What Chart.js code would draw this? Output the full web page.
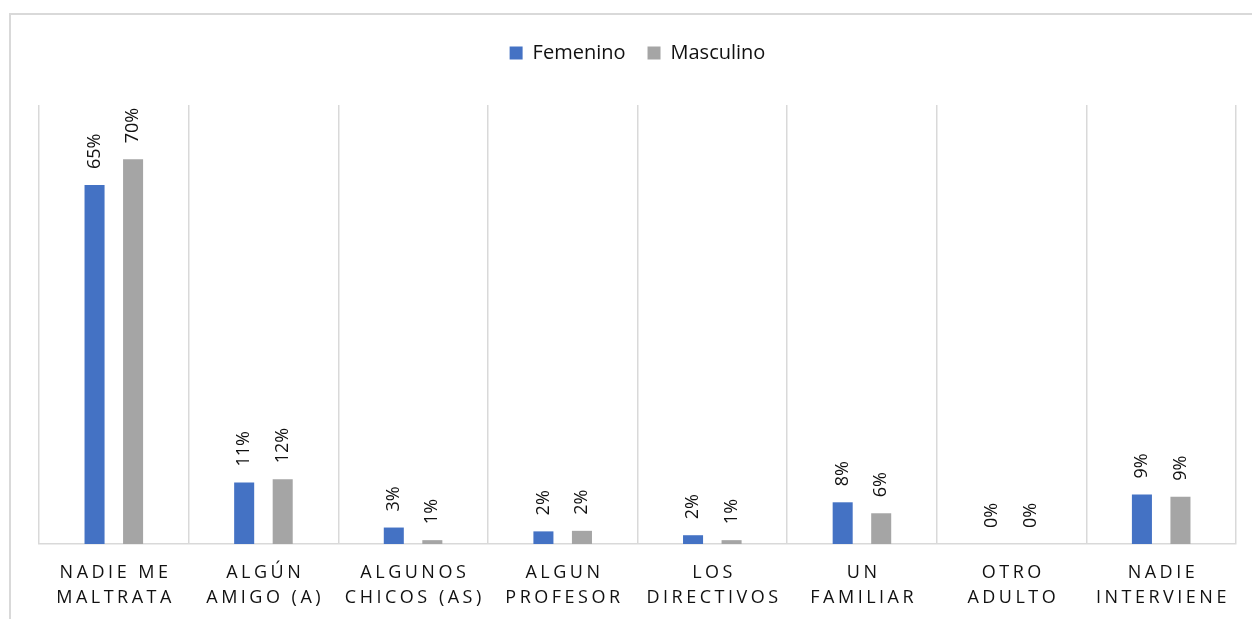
<!DOCTYPE html>
<html>
<head>
<meta charset="utf-8">
<script src="https://cdn.jsdelivr.net/npm/chart.js@4.4.1/dist/chart.umd.min.js"></script>
<style>
  html, body { margin: 0; padding: 0; background: #ffffff; overflow: hidden; width: 1252px; height: 619px; }
  #frame { position: absolute; left: 9px; top: 13px; width: 1300px; height: 700px; border: 2px solid #d9d9d9; background: #fff; }
  #wrap { position: absolute; left: 0; top: 0; width: 1241px; height: 604px; }
</style>
</head>
<body>
<div id="frame"><div id="wrap"><canvas id="c"></canvas></div></div>
<script>
const categories = [
  ["NADIE ME", "MALTRATA"],
  ["ALGÚN", "AMIGO (A)"],
  ["ALGUNOS", "CHICOS (AS)"],
  ["ALGUN", "PROFESOR"],
  ["LOS", "DIRECTIVOS"],
  ["UN", "FAMILIAR"],
  ["OTRO", "ADULTO"],
  ["NADIE", "INTERVIENE"]
];
const seriesNames = ["Femenino", "Masculino"];
const femenino  = [0.654, 0.112, 0.030, 0.023, 0.016, 0.076, 0, 0.090];
const masculino = [0.701, 0.118, 0.007, 0.024, 0.007, 0.056, 0, 0.086];
const yMax = 0.8;

const TEXT = '#111111';
const FONT = '"Open Sans", "Liberation Sans", sans-serif';

const valueLabels = {
  id: 'valueLabels',
  afterDatasetsDraw(chart) {
    const ctx = chart.ctx;
    ctx.save();
    ctx.font = '18px ' + FONT;
    ctx.fillStyle = TEXT;
    ctx.textAlign = 'left';
    ctx.textBaseline = 'middle';
    chart.data.datasets.forEach((ds, di) => {
      const meta = chart.getDatasetMeta(di);
      meta.data.forEach((bar, i) => {
        const txt = Math.round(ds.data[i] * 100) + '%';
        ctx.save();
        ctx.translate(bar.x, bar.y - 16);
        ctx.rotate(-Math.PI / 2);
        ctx.fillText(txt, 0, 0);
        ctx.restore();
      });
    });
    ctx.restore();
  }
};

const catLabels = {
  id: 'catLabels',
  afterDraw(chart) {
    const ctx = chart.ctx;
    const xs = chart.scales.x;
    const bottom = chart.chartArea.bottom;
    ctx.save();
    ctx.font = '18px ' + FONT;
    ctx.fillStyle = TEXT;
    ctx.textAlign = 'center';
    ctx.textBaseline = 'middle';
    const sp = 3.5;
    try { ctx.letterSpacing = sp + 'px'; } catch (e) {}
    categories.forEach((lines, i) => {
      const x = xs.getPixelForTick(i) + sp / 2;
      lines.forEach((t, li) => {
        ctx.fillText(t, x, bottom + 29 + li * 25);
      });
    });
    ctx.restore();
  }
};

new Chart(document.getElementById('c'), {
  type: 'bar',
  data: {
    labels: categories,
    datasets: [
      { label: seriesNames[0], data: femenino, backgroundColor: '#4472C4', categoryPercentage: 0.515, barPercentage: 0.52 },
      { label: seriesNames[1], data: masculino, backgroundColor: '#A5A5A5', categoryPercentage: 0.515, barPercentage: 0.52 }
    ]
  },
  options: {
    responsive: true,
    maintainAspectRatio: false,
    animation: false,
    layout: { padding: { top: 6, left: 28, right: 16, bottom: 0 } },
    plugins: {
      legend: {
        position: 'top',
        labels: {
          boxWidth: 13, boxHeight: 13, padding: 22,
          color: TEXT,
          font: { family: FONT, size: 20 }
        }
      },
      tooltip: { enabled: false },
      title: { display: false }
    },
    scales: {
      x: {
        grid: { display: true, color: '#d9d9d9', lineWidth: 1.5, drawTicks: false, offset: true },
        border: { display: true, color: '#d9d9d9', width: 1.5 },
        ticks: { display: false },
        afterFit: (s) => { s.height = 75; }
      },
      xTop: {
        type: 'category',
        position: 'top',
        labels: categories.map(() => ''),
        grid: { display: false, drawTicks: false },
        border: { display: false },
        ticks: { display: false },
        afterFit: (s) => { s.height = 32; }
      },
      y: {
        display: false,
        min: 0,
        max: yMax
      }
    }
  },
  plugins: [valueLabels, catLabels]
});
</script>
</body>
</html>
